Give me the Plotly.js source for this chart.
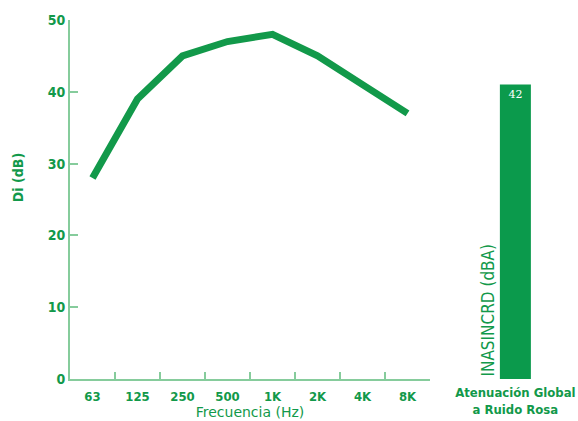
<!DOCTYPE html>
<html>
<head>
<meta charset="utf-8">
<script src="https://cdn.plot.ly/plotly-3.0.1.min.js"></script>
<style>html,body{margin:0;padding:0;background:#fff;}#chart{width:578px;height:421px;}</style>
</head>
<body>
<div id="chart"></div>
<script>
const frequencies = ['63', '125', '250', '500', '1K', '2K', '4K', '8K'];
const diValues = [28, 39, 45, 47, 48, 45, 41, 37];
const globalCategory = ['Atenuación Global<br>a Ruido Rosa'];
const globalValue = [41];
const globalLabel = ['42'];

const GREEN = '#12994a';
const LIGHT = '#86cc9c';
const FONT = 'DejaVu Sans, Verdana, sans-serif';
const CFONT = 'DejaVu Sans Condensed, DejaVu Sans, sans-serif';

const lineTrace = {
  type: 'scatter', mode: 'lines',
  x: frequencies, y: diValues,
  xaxis: 'x', yaxis: 'y',
  line: {color: GREEN, width: 7},
  hoverinfo: 'skip'
};
const barTrace = {
  type: 'bar',
  x: globalCategory, y: globalValue,
  xaxis: 'x2', yaxis: 'y',
  marker: {color: '#0b9a4c'},
  width: 0.34,
  text: globalLabel,
  textposition: 'inside',
  insidetextanchor: 'end',
  textfont: {color: '#ffffff', size: 11, family: 'DejaVu Serif, serif'},
  hoverinfo: 'skip'
};

const layout = {
  width: 578, height: 421,
  margin: {l: 70, r: 0, t: 20, b: 42},
  paper_bgcolor: '#ffffff', plot_bgcolor: '#ffffff',
  showlegend: false,
  font: {family: FONT, color: GREEN},
  xaxis: {
    domain: [0, 0.7087],
    type: 'category',
    range: [-0.5, 7.5],
    anchor: 'y',
    showline: true, linecolor: LIGHT, linewidth: 2,
    showgrid: false, zeroline: false,
    ticks: 'inside', tickson: 'boundaries', ticklen: 7, tickcolor: LIGHT, tickwidth: 2,
    ticklabelstandoff: 4,
    tickfont: {size: 13, color: GREEN, family: CFONT, weight: 'bold'},
    title: {text: 'Frecuencia (Hz)', font: {size: 14, color: GREEN, family: FONT}, standoff: 2}
  },
  xaxis2: {
    domain: [0.787, 0.9665],
    type: 'category',
    anchor: 'y',
    showline: false, showgrid: false, zeroline: false,
    ticks: '',
    ticklabelstandoff: 4,
    tickfont: {size: 13, color: GREEN, family: CFONT, weight: 'bold'}
  },
  yaxis: {
    range: [0, 50],
    showline: true, linecolor: LIGHT, linewidth: 2,
    showgrid: false, zeroline: false,
    ticks: 'inside', ticklen: 8, tickcolor: LIGHT, tickwidth: 2,
    dtick: 10,
    tickfont: {size: 14, color: GREEN, family: CFONT, weight: 'bold'}
  },
  annotations: [
    {
      xref: 'paper', yref: 'y', x: -0.102, y: 28,
      text: 'Di (dB)', textangle: -90, showarrow: false,
      xanchor: 'center', yanchor: 'middle',
      font: {size: 14, color: GREEN, family: CFONT, weight: 'bold'}
    },
    {
      xref: 'paper', yref: 'y', x: 0.821, y: 0,
      text: 'INASINCRD (dBA)', textangle: -90, showarrow: false,
      xanchor: 'center', yanchor: 'bottom',
      font: {size: 17, color: GREEN, family: CFONT}
    }
  ]
};

Plotly.newPlot('chart', [lineTrace, barTrace], layout, {displayModeBar: false, staticPlot: true});
</script>
</body>
</html>
